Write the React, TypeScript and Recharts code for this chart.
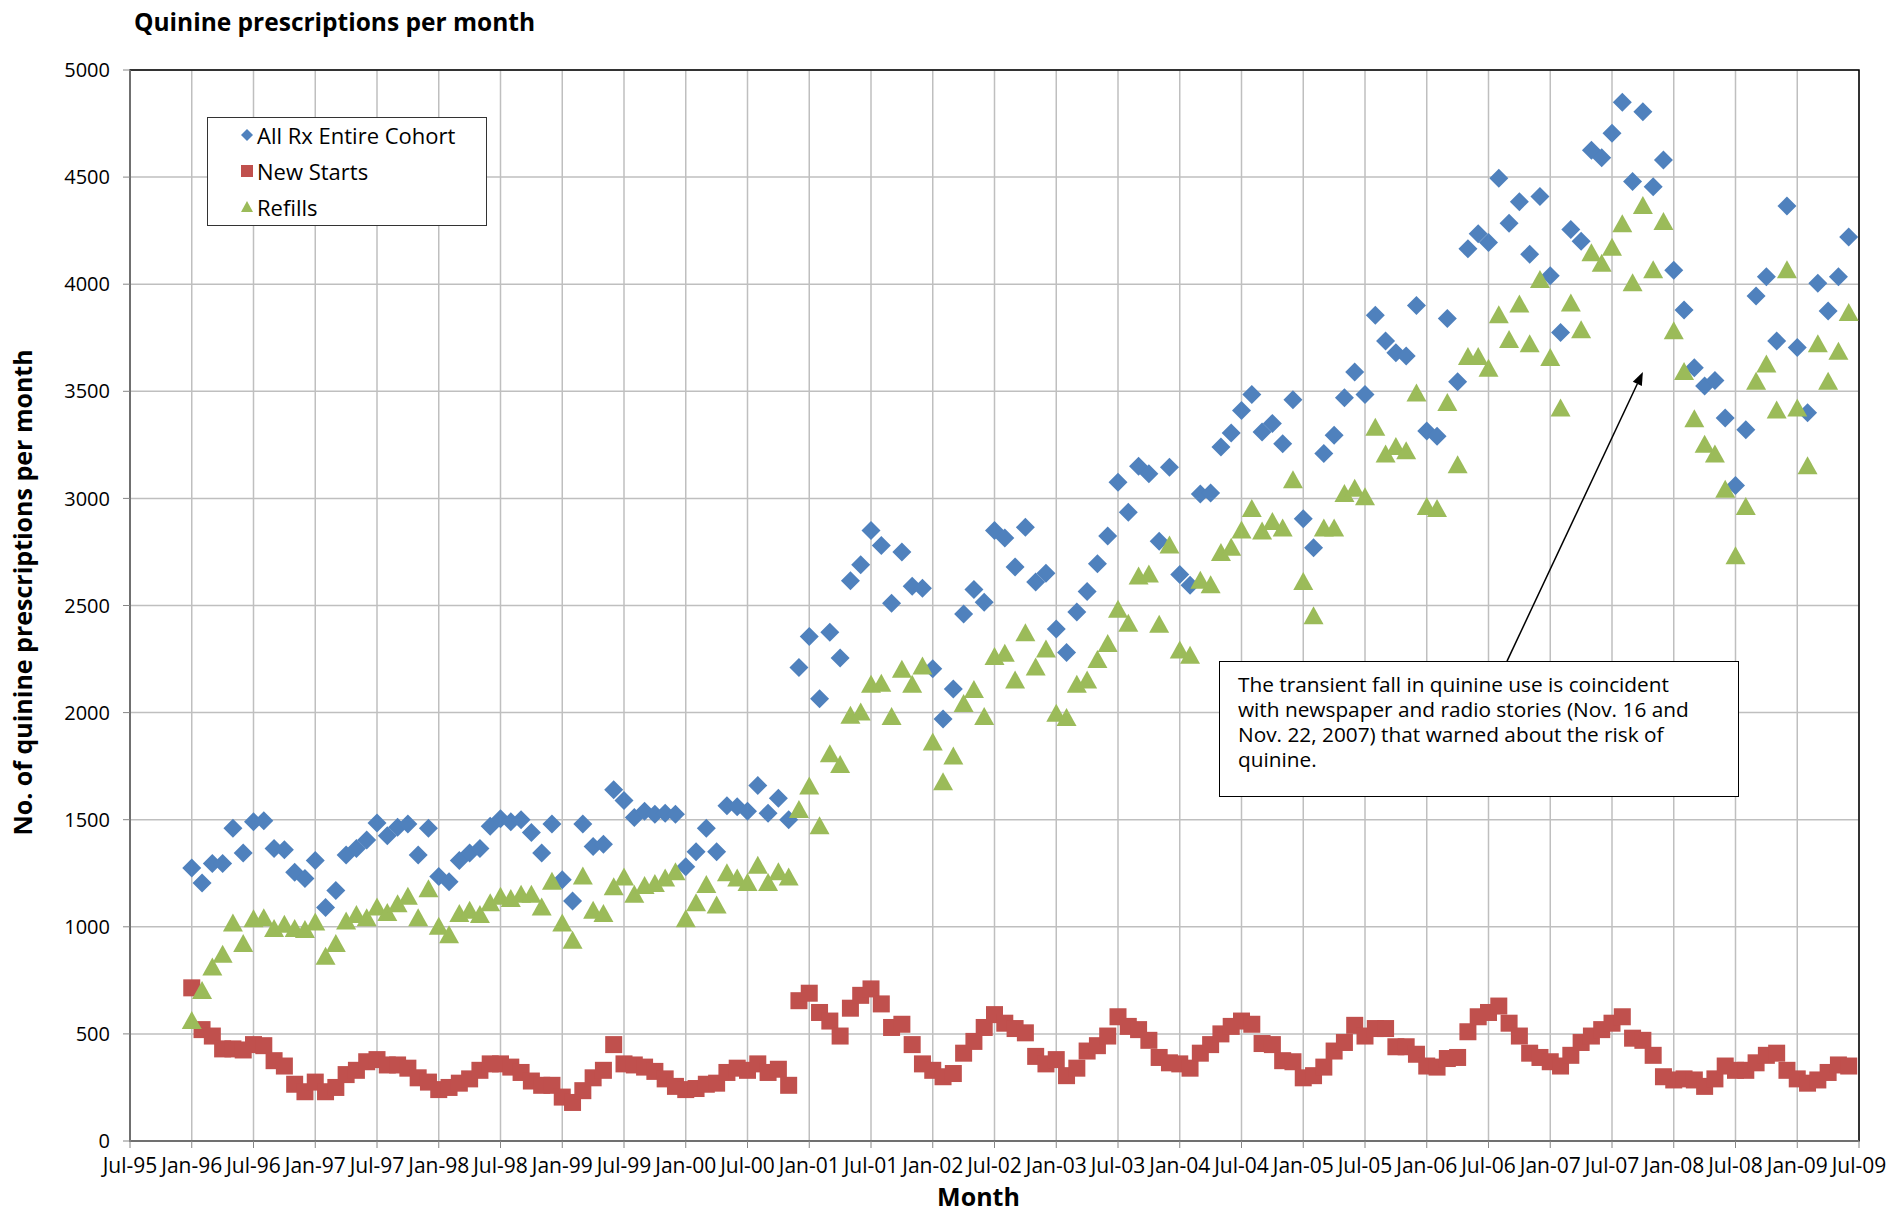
import React from 'react';
import {
  ComposedChart, Scatter, XAxis, YAxis, CartesianGrid, ReferenceArea, ReferenceLine,
} from 'recharts';

// tick labels for the date axis, one every six months starting Jul-95
const xTickLabels = [
  'Jul-95', 'Jan-96', 'Jul-96', 'Jan-97', 'Jul-97', 'Jan-98', 'Jul-98', 'Jan-99', 'Jul-99', 'Jan-00',
  'Jul-00', 'Jan-01', 'Jul-01', 'Jan-02', 'Jul-02', 'Jan-03', 'Jul-03', 'Jan-04', 'Jul-04', 'Jan-05',
  'Jul-05', 'Jan-06', 'Jul-06', 'Jan-07', 'Jul-07', 'Jan-08', 'Jul-08', 'Jan-09', 'Jul-09',
];
const yTicks = [0, 500, 1000, 1500, 2000, 2500, 3000, 3500, 4000, 4500, 5000];

// monthly values, Jan-96 .. Jun-09
const allRx = [
  1275, 1205, 1295, 1295, 1460, 1345, 1490, 1495, 1365, 1360, 1255, 1225,
  1310, 1090, 1170, 1335, 1365, 1405, 1485, 1425, 1465, 1480, 1335, 1460,
  1235, 1210, 1310, 1345, 1365, 1470, 1505, 1490, 1500, 1440, 1345, 1480,
  1220, 1120, 1480, 1375, 1385, 1640, 1590, 1510, 1540, 1525, 1530, 1525,
  1280, 1350, 1460, 1350, 1565, 1560, 1540, 1660, 1530, 1600, 1500, 2210,
  2355, 2065, 2375, 2255, 2615, 2690, 2850, 2780, 2510, 2750, 2590, 2580,
  2205, 1970, 2110, 2460, 2575, 2515, 2850, 2815, 2680, 2865, 2610, 2650,
  2390, 2280, 2470, 2565, 2695, 2825, 3075, 2935, 3150, 3115, 2800, 3145,
  2645, 2595, 3020, 3025, 3240, 3305, 3410, 3485, 3310, 3350, 3255, 3460,
  2905, 2770, 3210, 3295, 3470, 3590, 3485, 3855, 3735, 3680, 3665, 3900,
  3315, 3290, 3840, 3545, 4165, 4235, 4195, 4495, 4285, 4385, 4140, 4410,
  4040, 3775, 4255, 4200, 4625, 4590, 4705, 4850, 4480, 4805, 4455, 4580,
  4065, 3880, 3610, 3525, 3550, 3375, 3060, 3320, 3945, 4035, 3735, 4365,
  3705, 3400, 4005, 3875, 4035, 4220,
];

const newStarts = [
  715, 520, 490, 430, 430, 425, 450, 445, 375, 350, 265, 230,
  275, 230, 250, 310, 330, 370, 380, 355, 355, 340, 295, 275,
  240, 250, 270, 290, 330, 360, 360, 345, 320, 280, 260, 260,
  205, 180, 235, 295, 330, 450, 360, 355, 345, 325, 290, 255,
  240, 245, 265, 270, 320, 340, 330, 360, 320, 335, 260, 655,
  690, 600, 560, 490, 620, 680, 710, 640, 530, 545, 450, 360,
  330, 300, 315, 410, 465, 530, 590, 550, 525, 505, 395, 360,
  380, 305, 340, 420, 445, 490, 580, 535, 520, 470, 390, 365,
  360, 340, 410, 450, 500, 535, 560, 545, 455, 450, 375, 370,
  295, 305, 345, 420, 460, 540, 490, 525, 525, 440, 440, 405,
  350, 345, 385, 390, 510, 580, 600, 630, 550, 490, 410, 390,
  370, 350, 400, 460, 490, 520, 550, 580, 480, 470, 400, 300,
  285, 290, 285, 255, 290, 350, 330, 330, 365, 400, 410, 330,
  290, 270, 285, 320, 355, 350,
];

const refills = [
  560, 700, 810, 870, 1015, 920, 1035, 1040, 990, 1010, 990, 985,
  1020, 860, 920, 1025, 1055, 1040, 1090, 1065, 1105, 1140, 1040, 1175,
  1000, 960, 1060, 1075, 1055, 1110, 1140, 1130, 1150, 1150, 1090, 1210,
  1015, 935, 1235, 1075, 1060, 1185, 1230, 1150, 1190, 1200, 1225, 1255,
  1035, 1110, 1195, 1100, 1250, 1225, 1205, 1285, 1205, 1255, 1230, 1545,
  1655, 1470, 1805, 1755, 1985, 2000, 2130, 2135, 1980, 2200, 2130, 2215,
  1860, 1675, 1795, 2040, 2105, 1980, 2260, 2275, 2150, 2370, 2210, 2295,
  1995, 1975, 2130, 2150, 2245, 2320, 2480, 2415, 2635, 2645, 2410, 2780,
  2290, 2265, 2615, 2595, 2745, 2770, 2850, 2950, 2845, 2890, 2860, 3085,
  2610, 2450, 2860, 2860, 3020, 3045, 3005, 3330, 3205, 3240, 3220, 3490,
  2960, 2950, 3445, 3155, 3660, 3660, 3605, 3855, 3740, 3905, 3720, 4020,
  3655, 3420, 3910, 3785, 4145, 4095, 4170, 4280, 4005, 4365, 4065, 4290,
  3780, 3590, 3370, 3250, 3205, 3040, 2730, 2960, 3545, 3625, 3410, 4065,
  3420, 3150, 3720, 3545, 3685, 3865,
];

const FIRST_MONTH = 6; // Jan-96, counted in months from Jul-95
const xTicks = xTickLabels.map((_, i) => i * 6);
const rows = allRx.map((v, i) => ({
  month: FIRST_MONTH + i,
  allRx: v,
  newStarts: newStarts[i],
  refills: refills[i],
}));

const noteLines = [
  'The transient fall in quinine use is coincident',
  'with newspaper and radio stories (Nov. 16 and',
  'Nov. 22, 2007) that warned about the risk of',
  'quinine.',
];

const BLUE = '#4F81BD';
const RED = '#C0504D';
const GREEN = '#9BBB59';
const FONT = '"Open Sans", "Noto Sans", sans-serif';

const Diamond = ({ cx, cy }: any) => (
  <path d={`M${cx},${cy - 9.5}L${cx + 9.5},${cy}L${cx},${cy + 9.5}L${cx - 9.5},${cy}Z`} fill={BLUE} />
);
const Square = ({ cx, cy }: any) => (
  <rect x={cx - 8.5} y={cy - 8.5} width={17} height={17} fill={RED} />
);
const Triangle = ({ cx, cy }: any) => (
  <path d={`M${cx},${cy - 10}L${cx + 10},${cy + 8}L${cx - 10},${cy + 8}Z`} fill={GREEN} />
);

const Arrow = (props: any) => {
  const { x1, y1, x2, y2 } = props;
  const a = Math.atan2(y2 - y1, x2 - x1);
  const len = 13;
  const w = 5;
  const bx = x2 - len * Math.cos(a);
  const by = y2 - len * Math.sin(a);
  const px = -Math.sin(a) * w;
  const py = Math.cos(a) * w;
  return (
    <g>
      <line x1={x1} y1={y1} x2={bx} y2={by} stroke="#000" strokeWidth={1.5} />
      <path d={`M${x2},${y2}L${bx + px},${by + py}L${bx - px},${by - py}Z`} fill="#000" />
    </g>
  );
};

const legendItems = [
  { name: 'All Rx Entire Cohort', color: BLUE, kind: 'diamond' },
  { name: 'New Starts', color: RED, kind: 'square' },
  { name: 'Refills', color: GREEN, kind: 'triangle' },
];

function LegendIcon({ kind, color }: { kind: string; color: string }) {
  return (
    <svg width={14} height={14} style={{ display: 'block' }}>
      {kind === 'diamond' && <path d="M7,1L13,7L7,13L1,7Z" fill={color} />}
      {kind === 'square' && <rect x={1} y={1} width={12} height={12} fill={color} />}
      {kind === 'triangle' && <path d="M7,1L13,12L1,12Z" fill={color} />}
    </svg>
  );
}

export default function App() {
  return (
    <div style={{ position: 'absolute', left: 0, top: 0, width: 1887, height: 1213, background: '#fff', fontFamily: FONT }}>
      <div style={{ position: 'absolute', left: 134, top: 5, fontSize: 24.5, fontWeight: 700, color: '#000', whiteSpace: 'nowrap' }}>
        Quinine prescriptions per month
      </div>

      <ComposedChart width={1887} height={1213} data={rows} margin={{ top: 70, right: 28, bottom: 0, left: 0 }}>
        <CartesianGrid stroke="#BFBFBF" strokeWidth={1.5} />
        <ReferenceArea x1={0} x2={168} y1={0} y2={5000} fill="none" stroke="#000" strokeWidth={1.5} ifOverflow="visible" />
        <XAxis
          type="number"
          dataKey="month"
          domain={[0, 168]}
          ticks={xTicks}
          interval={0}
          tickFormatter={(v: number) => xTickLabels[Math.round(v / 6)]}
          tick={{ fill: '#000', fontSize: 21, fontFamily: FONT }}
          tickSize={7}
          tickMargin={10}
          axisLine={{ stroke: '#868686', strokeWidth: 1.5 }}
          tickLine={{ stroke: '#868686' }}
          height={72}
          label={{
            content: ({ viewBox }: any) => (
              <text x={viewBox.x + viewBox.width / 2 - 16} y={viewBox.y + 55} textAnchor="middle"
                dominantBaseline="central" fontSize={25} fontWeight={700} fontFamily={FONT} fill="#000">
                Month
              </text>
            ),
          }}
        />
        <YAxis
          type="number"
          domain={[0, 5000]}
          ticks={yTicks}
          interval={0}
          tick={{ fill: '#000', fontSize: 20, fontFamily: FONT }}
          tickSize={7}
          tickMargin={13}
          axisLine={{ stroke: '#868686', strokeWidth: 1.5 }}
          tickLine={{ stroke: '#868686' }}
          width={130}
          label={{
            content: ({ viewBox }: any) => {
              const cx = viewBox.x + 22;
              const cy = viewBox.y + viewBox.height / 2 - 13;
              return (
                <text x={cx} y={cy} transform={`rotate(-90 ${cx} ${cy})`} textAnchor="middle"
                  dominantBaseline="central" fontSize={25} fontWeight={700} fontFamily={FONT} fill="#000">
                  No. of quinine prescriptions per month
                </text>
              );
            },
          }}
        />
        <Scatter name="All Rx Entire Cohort" dataKey="allRx" shape={Diamond} isAnimationActive={false} />
        <Scatter name="New Starts" dataKey="newStarts" shape={Square} isAnimationActive={false} />
        <Scatter name="Refills" dataKey="refills" shape={Triangle} isAnimationActive={false} />
        <ReferenceLine segment={[{ x: 133.8, y: 2240 }, { x: 147, y: 3590 }]} shape={Arrow} ifOverflow="visible" />
      </ComposedChart>

      <div style={{
        position: 'absolute', left: 207, top: 117, width: 280, height: 109, boxSizing: 'border-box',
        border: '1.5px solid #333', background: '#fff',
      }}>
        {legendItems.map((it) => (
          <div key={it.name} style={{ display: 'flex', alignItems: 'center', height: 36, marginTop: -1, marginBottom: 1, fontSize: 22, color: '#000', whiteSpace: 'nowrap' }}>
            <div style={{ width: 46, display: 'flex', justifyContent: 'flex-end', paddingRight: 2 }}>
              <LegendIcon kind={it.kind} color={it.color} />
            </div>
            <span style={{ marginLeft: 1 }}>{it.name}</span>
          </div>
        ))}
      </div>

      <div style={{
        position: 'absolute', left: 1219, top: 661, width: 520, height: 136, boxSizing: 'border-box',
        border: '1.5px solid #000', background: '#fff', padding: '10px 0 0 18px', fontSize: 20.8, lineHeight: '25px', color: '#000', whiteSpace: 'nowrap',
      }}>
        {noteLines.map((l) => <div key={l}>{l}</div>)}
      </div>
    </div>
  );
}
